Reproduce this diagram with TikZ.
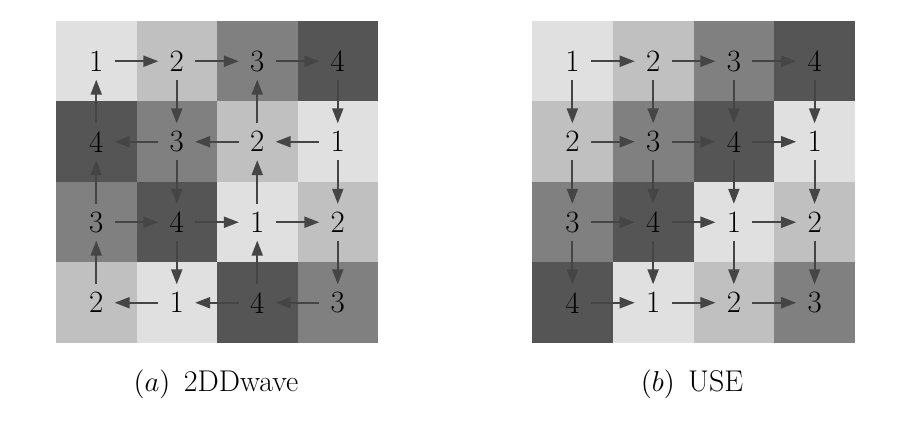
\documentclass[tikz,border=0pt]{standalone}
\usetikzlibrary{arrows.meta}
\definecolor{lv1}{gray}{0.878}
\definecolor{lv2}{gray}{0.753}
\definecolor{lv3}{gray}{0.5}
\definecolor{lv4}{gray}{0.333}
\definecolor{arr}{gray}{0.27}
\begin{document}
\begin{tikzpicture}[x=0.5pt,y=-0.5pt,
  num/.style={circle, inner sep=0pt, minimum size=18pt, font=\fontsize{15.5}{18}\selectfont, text=black},
  flow/.style={-{Triangle[length=7.5pt,width=5.5pt]}, draw=arr, line width=1pt},
  captext/.style={font=\fontsize{15}{18}\selectfont}]
\useasboundingbox (0,0) rectangle (911,421);
% grid (a) 2DDwave
\foreach \v [count=\i from 0] in {1,2,3,4,4,3,2,1,3,4,1,2,2,1,4,3} {
  \pgfmathtruncatemacro{\r}{\i/4}
  \pgfmathtruncatemacro{\c}{mod(\i,4)}
  \fill[lv\v] ({56+\c*80.5},{21+\r*80.5}) rectangle ++(80.5,80.5);
  \node[num] (a\r\c) at ({56+(\c+0.5)*80.5},{21+(\r+0.5)*80.5}) {\v};
}
% grid (b) USE
\foreach \v [count=\i from 0] in {1,2,3,4,2,3,4,1,3,4,1,2,4,1,2,3} {
  \pgfmathtruncatemacro{\r}{\i/4}
  \pgfmathtruncatemacro{\c}{mod(\i,4)}
  \fill[lv\v] ({532+\c*80.75},{21+\r*80.5}) rectangle ++(80.75,80.5);
  \node[num] (b\r\c) at ({532+(\c+0.5)*80.75},{21+(\r+0.5)*80.5}) {\v};
}
% arrows (a)
\draw[flow] (a00)--(a01); \draw[flow] (a01)--(a02); \draw[flow] (a02)--(a03);
\draw[flow] (a10)--(a00); \draw[flow] (a01)--(a11); \draw[flow] (a12)--(a02); \draw[flow] (a03)--(a13);
\draw[flow] (a13)--(a12); \draw[flow] (a12)--(a11); \draw[flow] (a11)--(a10);
\draw[flow] (a20)--(a10); \draw[flow] (a11)--(a21); \draw[flow] (a22)--(a12); \draw[flow] (a13)--(a23);
\draw[flow] (a20)--(a21); \draw[flow] (a21)--(a22); \draw[flow] (a22)--(a23);
\draw[flow] (a30)--(a20); \draw[flow] (a21)--(a31); \draw[flow] (a32)--(a22); \draw[flow] (a23)--(a33);
\draw[flow] (a33)--(a32); \draw[flow] (a32)--(a31); \draw[flow] (a31)--(a30);
% arrows (b)
\foreach \r in {0,1,2,3} {
  \foreach \c [evaluate=\c as \n using int(\c+1)] in {0,1,2} {
    \draw[flow] (b\r\c)--(b\r\n);
  }
}
\foreach \r [evaluate=\r as \n using int(\r+1)] in {0,1,2} {
  \foreach \c in {0,1,2,3} {
    \draw[flow] (b\r\c)--(b\n\c);
  }
}
% captions
\node[captext] (capa) at (216,384) {$(a)$\hspace{0.45em}2DDwave};
\node[captext] (capb) at (692,384) {$(b)$\hspace{0.45em}USE};
\end{tikzpicture}
\end{document}
